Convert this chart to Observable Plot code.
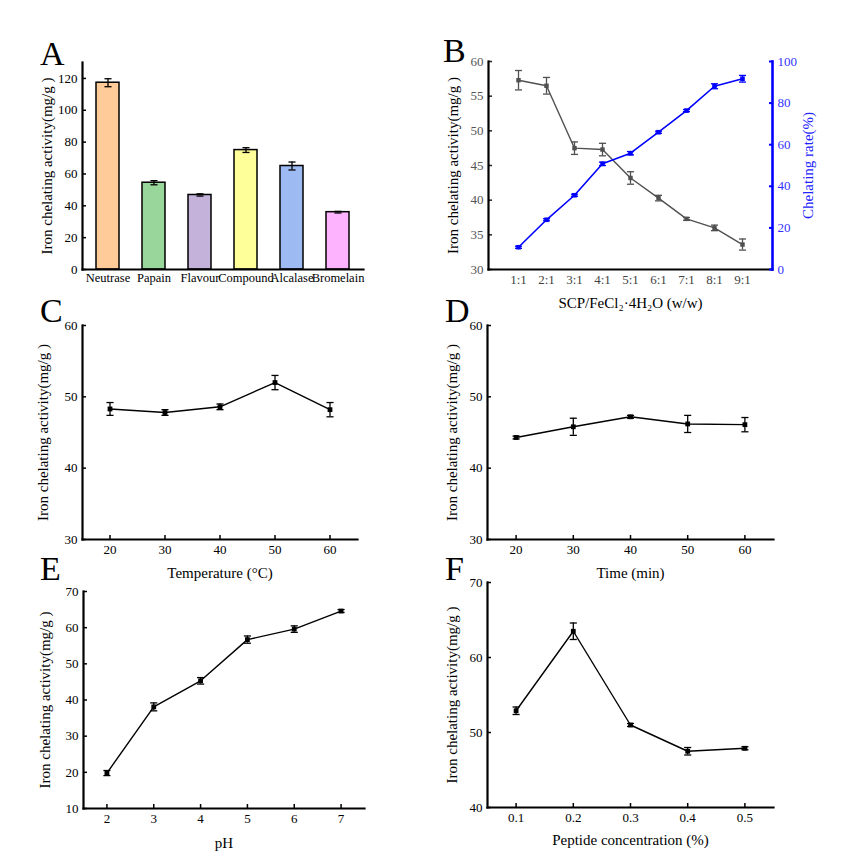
<!DOCTYPE html>
<html><head><meta charset="utf-8">
<script src="https://cdn.jsdelivr.net/npm/d3@7"></script>
<script src="https://cdn.jsdelivr.net/npm/@observablehq/plot@0.6"></script>
<style>
body{margin:0;background:#fff;}
#root{position:relative;width:865px;height:862px;font-family:"Liberation Serif",serif;overflow:hidden;}
.letter{position:absolute;font-size:34px;line-height:1;color:#000;font-family:"Liberation Serif",serif;}
svg{overflow:visible}
</style></head><body><div id="root"></div>
<script>
// ---- Panel A: enzymes ----
const enzymes = ["Neutrase","Papain","Flavour","Compound","Alcalase","Bromelain"];
const enzymeActivity = [117.3, 54.5, 46.8, 75.0, 65.0, 36.0];
const enzymeError = [2.5, 1.3, 0.7, 1.5, 2.5, 0.5];
const enzymeColors = ["#FFCC99","#99D69B","#C5B2DA","#FFFF99","#9DBAF2","#FDB3FD"];
const yTicksA = [0,20,40,60,80,100,120];

// ---- Panel B: SCP/FeCl2 ratio ----
const ratios = ["1:1","2:1","3:1","4:1","5:1","6:1","7:1","8:1","9:1"];
const ratioActivity = [57.3,56.5,47.5,47.3,43.2,40.3,37.3,36.0,33.6];
const ratioActivityError = [1.4,1.2,0.9,0.9,0.9,0.4,0.2,0.4,0.8];
const chelatingRate = [10.7,23.9,35.7,50.8,55.9,66.0,76.4,88.1,91.7];
const chelatingRateError = [0.5,0.5,0.5,0.8,0.8,0.5,0.5,1.2,1.6];
const yTicksBLeft = [30,35,40,45,50,55,60];
const yTicksBRight = [0,20,40,60,80,100];

// ---- Panel C: temperature ----
const temperatures = [20,30,40,50,60];
const tempActivity = [48.3,47.8,48.6,52.0,48.2];
const tempError = [0.9,0.4,0.4,1.0,1.0];
const yTicksC = [30,40,50,60];

// ---- Panel D: time ----
const times = [20,30,40,50,60];
const timeActivity = [44.3,45.8,47.2,46.2,46.1];
const timeError = [0.2,1.2,0.2,1.2,1.0];
const yTicksD = [30,40,50,60];

// ---- Panel E: pH ----
const pHs = [2,3,4,5,6,7];
const pHActivity = [19.8,38.1,45.3,56.7,59.6,64.6];
const pHError = [0.7,1.1,0.9,1.0,0.9,0.4];
const yTicksE = [10,20,30,40,50,60,70];

// ---- Panel F: peptide concentration ----
const concentrations = [0.1,0.2,0.3,0.4,0.5];
const concActivity = [52.9,63.5,51.0,47.5,47.9];
const concError = [0.5,1.1,0.2,0.5,0.2];
const yTicksF = [40,50,60,70];

const yLabel = "Iron chelating activity(mg/g )";

const root = document.getElementById("root");
const baseStyle = {fontFamily:"Liberation Serif", fontSize:"13px", background:"transparent", color:"#000", overflow:"visible"};
const capSymbol = {draw(ctx, size){ const w = Math.sqrt(size); ctx.moveTo(-w,0); ctx.lineTo(w,0); }};
const plain = d => String(d);

function mount(svg, left, top){ svg.style.position="absolute"; svg.style.left=left+"px"; svg.style.top=top+"px"; root.appendChild(svg); }
function letter(t, left, top){ const d=document.createElement("div"); d.className="letter"; d.textContent=t; d.style.left=left+"px"; d.style.top=top+"px"; root.appendChild(d); }

function errMarks(data, x, color, sw=1.3, capR=2){
  return [
    Plot.ruleX(data, {x, y1:"lo", y2:"hi", stroke:color, strokeWidth:sw}),
    Plot.dot(data, {x, y:"lo", symbol:capSymbol, r:capR, stroke:color, strokeWidth:sw, fill:"none"}),
    Plot.dot(data, {x, y:"hi", symbol:capSymbol, r:capR, stroke:color, strokeWidth:sw, fill:"none"})
  ];
}
function rows(xs, ys, es){ return xs.map((d,i)=>({x:d, y:ys[i], lo:ys[i]-es[i], hi:ys[i]+es[i]})); }
function yTitle(text, dx, anchor="left", fill="#000"){
  return Plot.text([text], {text:d=>d, frameAnchor:anchor, textAnchor:"middle", lineAnchor:"middle", rotate:-90, dx, fontSize:15, fill});
}
function xTitle(text, dy){
  return Plot.text([text], {text:d=>d, frameAnchor:"bottom", textAnchor:"middle", lineAnchor:"middle", dy, fontSize:15});
}

function linePanel(o){
  const data = rows(o.x, o.y, o.err);
  const color = o.color || "#000";
  return Plot.plot({
    width:o.width, height:o.height, marginLeft:o.mL, marginRight:o.mR, marginTop:o.mT, marginBottom:o.mB,
    style: baseStyle,
    x: {domain:o.xDomain},
    y: {domain:o.yDomain},
    marks: [
      Plot.axisX({ticks:o.xTicks, tickFormat:plain, tickSize:-4, tickPadding:9, label:null, fontSize:13, strokeWidth:1.5}),
      Plot.axisY({ticks:o.yTicks, tickFormat:plain, tickSize:-4, tickPadding:9, label:null, fontSize:13, strokeWidth:1.5}),
      Plot.frame({anchor:"left", strokeWidth:2.2}),
      Plot.frame({anchor:"bottom", strokeWidth:2.2}),
      Plot.line(data, {x:"x", y:"y", stroke:color, strokeWidth:1.4}),
      ...errMarks(data, "x", color),
      Plot.dot(data, {x:"x", y:"y", symbol:"square", r:2.7, fill:color, stroke:"none"}),
      xTitle(o.xLabel, o.xLabelDy),
      yTitle(yLabel, o.yLabelDx)
    ]
  });
}

// ---- A ----
const dataA = enzymes.map((name,i)=>({name, value:enzymeActivity[i], lo:enzymeActivity[i]-enzymeError[i], hi:enzymeActivity[i]+enzymeError[i], color:enzymeColors[i]}));
mount(Plot.plot({
  width:430, height:300, marginLeft:82, marginRight:67, marginTop:62, marginBottom:31,
  style: baseStyle,
  x: {domain:enzymes, type:"band", paddingInner:0.5, paddingOuter:0.25},
  y: {domain:[0,130]},
  color: {type:"identity"},
  marks: [
    Plot.barY(dataA, {x:"name", y:"value", fill:d=>d.color, stroke:"#000", strokeWidth:1.5}),
    ...errMarks(dataA, "name", "#000"),
    Plot.axisX({tickSize:0, tickPadding:4, label:null, fontSize:12.5}),
    Plot.axisY({ticks:yTicksA, tickFormat:plain, tickSize:-4, tickPadding:9, label:null, fontSize:13, strokeWidth:1.5}),
    Plot.frame({anchor:"left", strokeWidth:2.2}),
    Plot.frame({anchor:"bottom", strokeWidth:2.2}),
    yTitle(yLabel, -35)
  ]
}), 0, 0);

// ---- B ----
const dataB1 = rows(ratios, ratioActivity, ratioActivityError);
const dataB2 = rows(ratios, chelatingRate, chelatingRateError);
const grey = "#505050", blue = "#0000FF";
const xB = {domain:ratios, type:"point", padding:0.94};
mount(Plot.plot({
  width:435, height:310, marginLeft:58, marginRight:93, marginTop:61, marginBottom:41,
  style: baseStyle,
  x: xB, y: {domain:[30,60]},
  marks: [
    Plot.axisX({tickSize:0, tickPadding:5, label:null, fontSize:13, fill:"#444"}),
    Plot.axisY({ticks:yTicksBLeft, tickFormat:plain, tickSize:-4, tickPadding:9, label:null, fontSize:13, strokeWidth:1.5, fill:"#555", stroke:"#222"}),
    Plot.frame({anchor:"left", strokeWidth:2.2}),
    Plot.frame({anchor:"bottom", strokeWidth:2.2}),
    Plot.line(dataB1, {x:"x", y:"y", stroke:grey, strokeWidth:1.4}),
    ...errMarks(dataB1, "x", grey),
    Plot.dot(dataB1, {x:"x", y:"y", symbol:"square", r:2.5, fill:grey, stroke:"none"}),
    xTitle("SCP/FeCl₂·4H₂O (w/w)", 34),
    yTitle(yLabel, -35)
  ]
}), 430, 0);
mount(Plot.plot({
  width:435, height:310, marginLeft:58, marginRight:93, marginTop:61, marginBottom:41,
  style: baseStyle,
  x: {...xB, axis:null}, y: {domain:[0,100], axis:null},
  marks: [
    Plot.axisY({anchor:"right", ticks:yTicksBRight, tickFormat:plain, tickSize:-4, tickPadding:9, label:null, fontSize:13, strokeWidth:2, stroke:blue, fill:"#3333FF"}),
    Plot.frame({anchor:"right", strokeWidth:2.6, stroke:blue}),
    Plot.line(dataB2, {x:"x", y:"y", stroke:blue, strokeWidth:1.6}),
    ...errMarks(dataB2, "x", blue),
    Plot.dot(dataB2, {x:"x", y:"y", symbol:"square", r:2.6, fill:blue, stroke:"none"}),
    yTitle("Chelating rate(%)", 36, "right", "#2222FF")
  ]
}), 430, 0);

// ---- C ----
mount(linePanel({x:temperatures, y:tempActivity, err:tempError, xDomain:[15,65], yDomain:[30,60], xTicks:temperatures, yTicks:yTicksC,
  xLabel:"Temperature (°C)", width:430, height:280, mL:82, mR:73, mT:25, mB:41, xLabelDy:34, yLabelDx:-39}), 0, 300);
// ---- D ----
mount(linePanel({x:times, y:timeActivity, err:timeError, xDomain:[15,65], yDomain:[30,60], xTicks:times, yTicks:yTicksD,
  xLabel:"Time (min)", width:435, height:280, mL:57, mR:92, mT:25, mB:41, xLabelDy:34, yLabelDx:-35}), 430, 300);
// ---- E ----
mount(linePanel({x:pHs, y:pHActivity, err:pHError, xDomain:[1.5,7.5], yDomain:[10,70], xTicks:pHs, yTicks:yTicksE,
  xLabel:"pH", width:430, height:292, mL:83, mR:66, mT:21, mB:54, xLabelDy:35, yLabelDx:-38}), 0, 570);
// ---- F ----
mount(linePanel({x:concentrations, y:concActivity, err:concError, xDomain:[0.05,0.55], yDomain:[40,70], xTicks:concentrations, yTicks:yTicksF,
  xLabel:"Peptide concentration (%)", width:435, height:292, mL:57, mR:92, mT:12, mB:55, xLabelDy:33, yLabelDx:-35}), 430, 570);

letter("A", 40, 37);
letter("B", 443, 34);
letter("C", 40, 294);
letter("D", 445, 294);
letter("E", 40, 552);
letter("F", 445, 552);
</script></body></html>
